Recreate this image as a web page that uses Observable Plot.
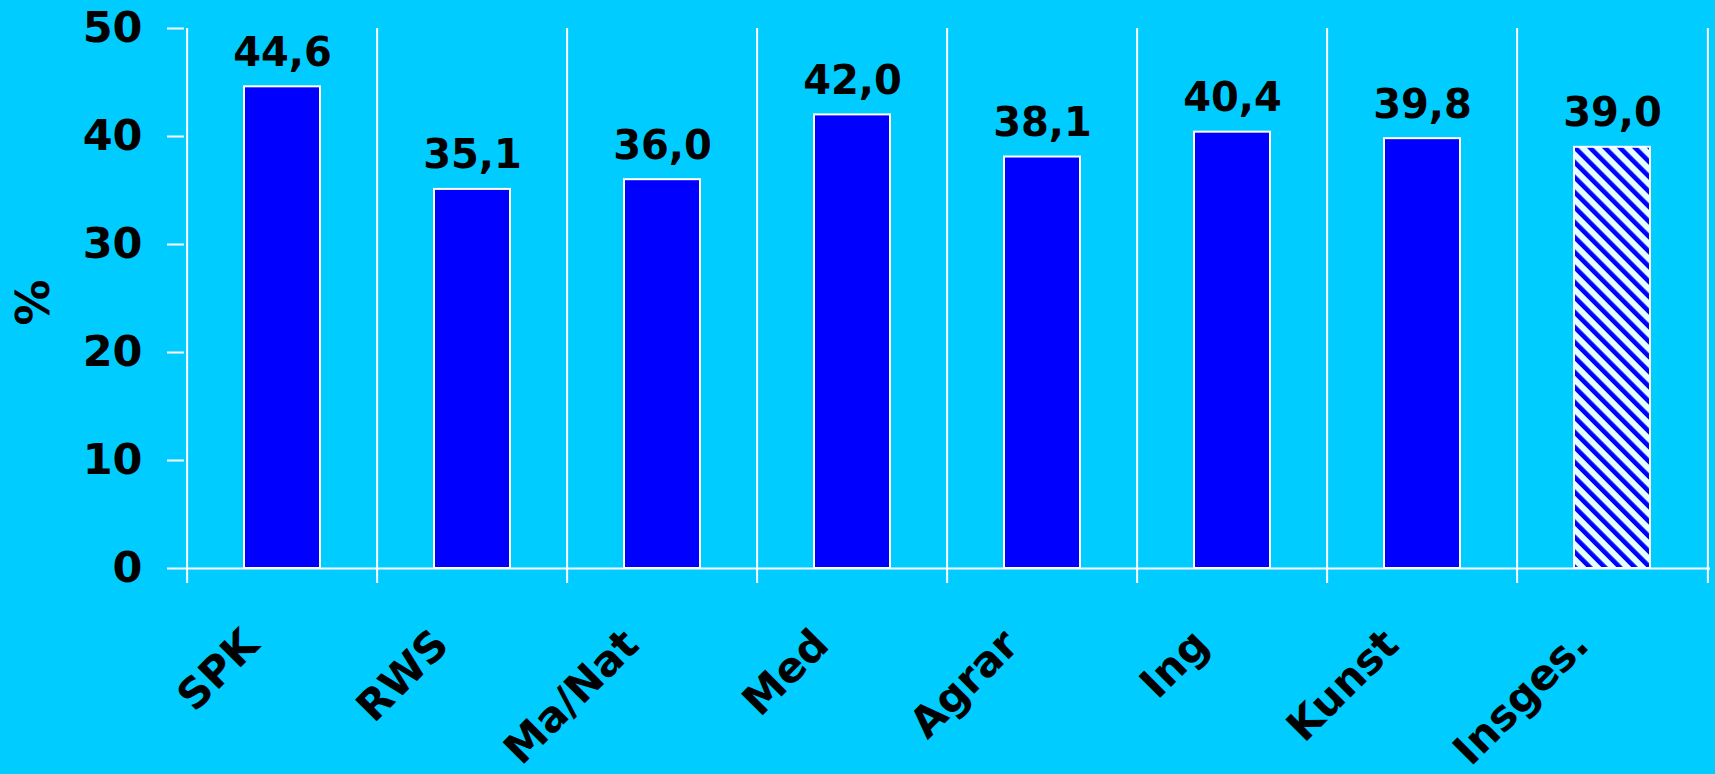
<!DOCTYPE html>
<html>
<head>
<meta charset="utf-8">
<script src="https://cdn.jsdelivr.net/npm/d3@7"></script>
<script src="https://cdn.jsdelivr.net/npm/@observablehq/plot@0.6"></script>
<style>
  html, body { margin: 0; padding: 0; background: #00CCFF; overflow: hidden; }
  svg { display: block; }
</style>
</head>
<body>
<div id="chart"></div>
<script>
const categories = ["SPK", "RWS", "Ma/Nat", "Med", "Agrar", "Ing", "Kunst", "Insges."];
const values = [44.6, 35.1, 36.0, 42.0, 38.1, 40.4, 39.8, 39.0];
const hatchedCategory = "Insges.";
const yTicks = [0, 10, 20, 30, 40, 50];

const data = categories.map((c, i) => ({cat: c, value: values[i], label: values[i].toFixed(1).replace(".", ",")}));

const W = 1715, H = 774;
const mL = 184, mR = 5, mT = 28, mB = 206;
const bw = (W - mL - mR) / categories.length;
const barInset = 57;
const font = "DejaVu Sans, Verdana, sans-serif";

const chart = Plot.plot({
  width: W,
  height: H,
  marginLeft: mL,
  marginRight: mR,
  marginTop: mT,
  marginBottom: mB,
  style: {background: "#00CCFF", color: "black", fontFamily: font, fontWeight: "bold", overflow: "visible"},
  x: {domain: categories, padding: 0, axis: null},
  y: {domain: [0, 50], axis: null},
  marks: [
    Plot.ruleX(categories, {x: d => d, y1: 50, y2: 0, dx: -bw / 2, insetBottom: -15, stroke: "white", strokeWidth: 2}),
    Plot.ruleX([categories[categories.length - 1]], {x: d => d, y1: 50, y2: 0, dx: bw / 2, insetBottom: -15, stroke: "white", strokeWidth: 2}),
    Plot.ruleY([0], {stroke: "white", strokeWidth: 2}),
    Plot.axisY({ticks: yTicks, tickSize: 17, tickPadding: 25, stroke: "white", strokeWidth: 2, fill: "black", fontSize: 43, fontWeight: "bold", label: null}),
    Plot.barY(data.filter(d => d.cat !== hatchedCategory), {x: "cat", y: "value", fill: "#0000FF", stroke: "white", strokeWidth: 2, insetLeft: barInset, insetRight: barInset}),
    Plot.barY(data.filter(d => d.cat === hatchedCategory), {x: "cat", y: "value", fill: "url(#hatch)", stroke: "white", strokeWidth: 2, insetLeft: barInset, insetRight: barInset}),
    Plot.text(data, {x: "cat", y: "value", text: "label", lineAnchor: "bottom", dy: -21, fontSize: 40, fontWeight: "bold", fill: "black", letterSpacing: "-1.5px"}),
    Plot.text(data, {x: "cat", y: 0, text: "cat", rotate: -45, textAnchor: "end", lineAnchor: "middle", dx: -31, dy: 69, fontSize: 42, fontWeight: "bold", fill: "black"}),
    Plot.text(["%"], {frameAnchor: "left", dx: -150, dy: 4, rotate: -90, text: d => d, textAnchor: "middle", lineAnchor: "middle", fontSize: 46, fontWeight: "bold", fill: "black"})
  ]
});

const svg = d3.select(chart);
const defs = svg.insert("defs", ":first-child");
const pat = defs.append("pattern")
  .attr("id", "hatch")
  .attr("patternUnits", "userSpaceOnUse")
  .attr("width", 10.6)
  .attr("height", 10.6)
  .attr("patternTransform", "rotate(-45)");
pat.append("rect").attr("width", 10.6).attr("height", 10.6).attr("fill", "#E4FFFF");
pat.append("rect").attr("x", 0).attr("width", 4.6).attr("height", 10.6).attr("fill", "#0000FF");

document.getElementById("chart").appendChild(chart);
</script>
</body>
</html>
